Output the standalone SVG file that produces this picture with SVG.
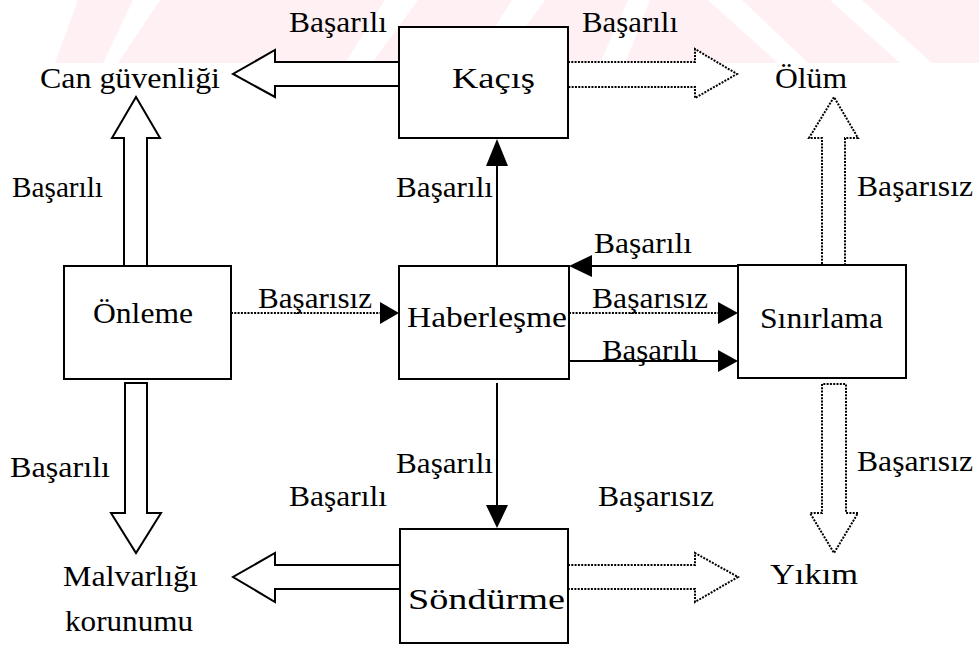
<svg xmlns="http://www.w3.org/2000/svg" width="979" height="646" viewBox="0 0 979 646">
<style>
.t{font-family:"Liberation Serif",serif;font-size:30px;fill:#000}
.box{fill:#fff;stroke:#000;stroke-width:2}
.blk{fill:#fff;stroke:#000;stroke-width:2;stroke-linejoin:miter}
.dot{fill:#fff;stroke:#000;stroke-width:2;stroke-dasharray:2 1.3}
.ln{fill:none;stroke:#000;stroke-width:2}
.dln{fill:none;stroke:#000;stroke-width:2;stroke-dasharray:2 1.3}
.hd{fill:#000;stroke:none}
.wm{fill:#fef0f3}
</style>
<rect width="979" height="646" fill="#fff"/>
<g id="watermark">
<polygon class="wm" points="78,0 133,0 103,63 55,63"/>
<polygon class="wm" points="160,0 385,0 345,63 118,63"/>
<polygon class="wm" points="418,0 512,0 472,63 372,63"/>
<polygon class="wm" points="545,0 628,0 600,63 500,63"/>
<polygon class="wm" points="650,0 708,0 778,63 625,63"/>
<polygon class="wm" points="742,0 830,0 900,63 808,63"/>
<polygon class="wm" points="862,0 979,0 979,63 932,63"/>
</g>
<g id="connectors">
<path class="blk" d="M399,62 H275 V50 L233,74 L275,97 V86 H399"/>
<path class="dot" d="M568,62 H695 V49 L737,74 L695,98 V87 H568"/>
<path class="blk" d="M124,266 V138 H112 L136,97 L160,138 H147 V266"/>
<path class="dot" d="M822,264 V138 H809 L834,97 L858,138 H845 V264"/>
<path class="blk" d="M125,383 V513 H111 L136,553 L161,513 H147 V383 Z"/>
<path class="dot" d="M822,384 V513 H810 L834,553 L858,513 H846 V384 Z"/>
<path class="blk" d="M400,565 H275 V553 L233,577 L275,602 V589 H400"/>
<path class="dot" d="M568,565 H695 V553 L738,577 L695,602 V589 H568"/>
<line class="ln" x1="497" y1="266" x2="497" y2="164"/>
<polygon class="hd" points="497,139 486,166 508,166"/>
<line class="dln" x1="231" y1="313" x2="382" y2="313"/>
<polygon class="hd" points="399,313 380,302 380,324"/>
<line class="ln" x1="738" y1="266" x2="590" y2="266"/>
<polygon class="hd" points="569,266 592,255 592,277"/>
<line class="dln" x1="569" y1="313" x2="720" y2="313"/>
<polygon class="hd" points="738,313 718,302 718,324"/>
<line class="ln" x1="569" y1="361" x2="720" y2="361"/>
<polygon class="hd" points="738,361 718,350 718,372"/>
<line class="ln" x1="497" y1="383" x2="497" y2="507"/>
<polygon class="hd" points="497,528 486,505 508,505"/>
</g>
<g id="kacis"><rect class="box" x="399" y="27" width="169" height="111"/><text class="t" x="452" y="88" textLength="83" lengthAdjust="spacingAndGlyphs">Kaçış</text></g>
<g id="onleme"><rect class="box" x="64" y="266" width="167" height="113"/><text class="t" x="93" y="323" textLength="100" lengthAdjust="spacingAndGlyphs">Önleme</text></g>
<g id="haberlesme"><rect class="box" x="399" y="266" width="170" height="113"/><text class="t" x="407" y="327" textLength="160" lengthAdjust="spacingAndGlyphs">Haberleşme</text></g>
<g id="sinirlama"><rect class="box" x="738" y="265" width="168" height="113"/><text class="t" x="760" y="328" textLength="123" lengthAdjust="spacingAndGlyphs">Sınırlama</text></g>
<g id="sondurme"><rect class="box" x="400" y="529" width="168" height="114"/><text class="t" x="408" y="609" textLength="157" lengthAdjust="spacingAndGlyphs">Söndürme</text></g>
<g id="can"><text class="t" x="40" y="88" textLength="180" lengthAdjust="spacingAndGlyphs">Can güvenliği</text></g>
<g id="olum"><text class="t" x="775" y="88" textLength="72" lengthAdjust="spacingAndGlyphs">Ölüm</text></g>
<g id="malvarligi"><text class="t" x="63" y="586" textLength="135" lengthAdjust="spacingAndGlyphs">Malvarlığı</text><text class="t" x="65" y="631" textLength="128" lengthAdjust="spacingAndGlyphs">korunumu</text></g>
<g id="yikim"><text class="t" x="770" y="584" textLength="88" lengthAdjust="spacingAndGlyphs">Yıkım</text></g>
<g id="labels">
<text class="t" x="289" y="32" textLength="98" lengthAdjust="spacingAndGlyphs">Başarılı</text>
<text class="t" x="582" y="32" textLength="96" lengthAdjust="spacingAndGlyphs">Başarılı</text>
<text class="t" x="12" y="197" textLength="91" lengthAdjust="spacingAndGlyphs">Başarılı</text>
<text class="t" x="396" y="197" textLength="97" lengthAdjust="spacingAndGlyphs">Başarılı</text>
<text class="t" x="857" y="196" textLength="116" lengthAdjust="spacingAndGlyphs">Başarısız</text>
<text class="t" x="594" y="253" textLength="98" lengthAdjust="spacingAndGlyphs">Başarılı</text>
<text class="t" x="258" y="308" textLength="114" lengthAdjust="spacingAndGlyphs">Başarısız</text>
<text class="t" x="592" y="308" textLength="116" lengthAdjust="spacingAndGlyphs">Başarısız</text>
<text class="t" x="602" y="360" textLength="96" lengthAdjust="spacingAndGlyphs">Başarılı</text>
<text class="t" x="10" y="477" textLength="100" lengthAdjust="spacingAndGlyphs">Başarılı</text>
<text class="t" x="396" y="473" textLength="97" lengthAdjust="spacingAndGlyphs">Başarılı</text>
<text class="t" x="857" y="471" textLength="116" lengthAdjust="spacingAndGlyphs">Başarısız</text>
<text class="t" x="289" y="506" textLength="98" lengthAdjust="spacingAndGlyphs">Başarılı</text>
<text class="t" x="598" y="506" textLength="116" lengthAdjust="spacingAndGlyphs">Başarısız</text>
</g>
</svg>
